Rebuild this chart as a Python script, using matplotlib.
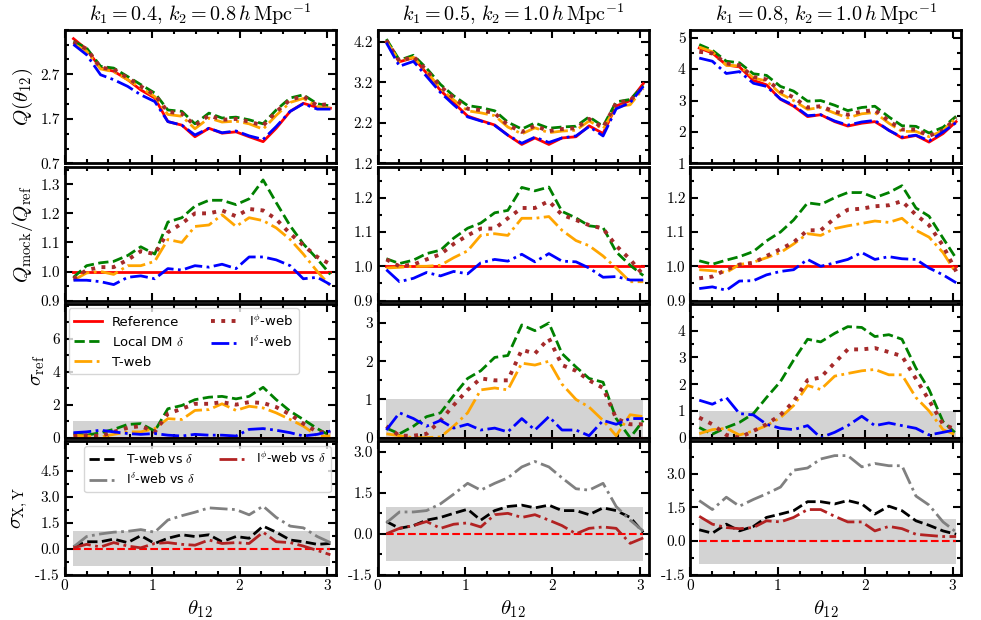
import matplotlib
matplotlib.use("Agg")
import matplotlib.pyplot as plt
from matplotlib.ticker import AutoMinorLocator, FixedLocator
import numpy as np

plt.rcParams['mathtext.fontset'] = 'cm'
plt.rcParams['font.family'] = 'serif'
plt.rcParams['font.serif'] = ['cmr10', 'DejaVu Serif']
plt.rcParams['axes.formatter.use_mathtext'] = True

theta = [0.10, 0.25, 0.41, 0.56, 0.72, 0.87, 1.03, 1.18, 1.34, 1.49,
         1.65, 1.80, 1.96, 2.11, 2.27, 2.42, 2.58, 2.73, 2.89, 3.04]

titles = [r'$k_1 = 0.4,\, k_2 = 0.8\,h\,\mathrm{Mpc}^{-1}$',
          r'$k_1 = 0.5,\, k_2 = 1.0\,h\,\mathrm{Mpc}^{-1}$',
          r'$k_1 = 0.8,\, k_2 = 1.0\,h\,\mathrm{Mpc}^{-1}$']

# Q(theta_12), one list per column
Q_ref = [
    [3.50, 3.26, 2.84, 2.77, 2.58, 2.35, 2.17, 1.64, 1.56, 1.30, 1.49, 1.38, 1.41, 1.30, 1.19, 1.49, 1.87, 2.05, 1.96, 1.94],
    [4.20, 3.71, 3.81, 3.43, 3.00, 2.70, 2.37, 2.26, 2.15, 1.90, 1.67, 1.83, 1.67, 1.83, 1.86, 2.13, 1.94, 2.62, 2.75, 3.17],
    [4.67, 4.51, 4.13, 4.07, 3.64, 3.50, 3.04, 2.82, 2.49, 2.55, 2.33, 2.19, 2.28, 2.33, 2.06, 1.81, 1.89, 1.68, 1.95, 2.33],
]
Q_dm = [
    [3.44, 3.29, 2.88, 2.84, 2.65, 2.47, 2.28, 1.90, 1.87, 1.59, 1.83, 1.72, 1.74, 1.68, 1.59, 1.90, 2.17, 2.24, 2.04, 1.99],
    [4.27, 3.75, 3.87, 3.55, 3.15, 2.87, 2.63, 2.58, 2.50, 2.22, 2.05, 2.20, 2.07, 2.10, 2.12, 2.35, 2.12, 2.72, 2.78, 3.12],
    [4.78, 4.60, 4.25, 4.20, 3.85, 3.80, 3.45, 3.30, 2.98, 3.00, 2.85, 2.68, 2.78, 2.82, 2.48, 2.20, 2.18, 1.97, 2.15, 2.50],
]
Q_tweb = [
    [3.38, 3.22, 2.82, 2.76, 2.58, 2.40, 2.20, 1.80, 1.76, 1.48, 1.72, 1.63, 1.65, 1.59, 1.47, 1.78, 2.07, 2.16, 1.98, 1.94],
    [4.22, 3.72, 3.82, 3.47, 3.05, 2.77, 2.50, 2.45, 2.38, 2.10, 1.93, 2.08, 1.96, 2.00, 2.02, 2.25, 2.05, 2.60, 2.65, 3.05],
    [4.70, 4.55, 4.12, 4.10, 3.72, 3.62, 3.22, 3.00, 2.72, 2.78, 2.60, 2.45, 2.58, 2.62, 2.28, 2.02, 2.02, 1.85, 2.05, 2.45],
]
Q_iphi = [
    [3.42, 3.27, 2.85, 2.81, 2.62, 2.43, 2.24, 1.86, 1.82, 1.55, 1.78, 1.68, 1.70, 1.64, 1.55, 1.86, 2.13, 2.21, 2.00, 2.04],
    [4.24, 3.72, 3.84, 3.50, 3.10, 2.82, 2.55, 2.52, 2.44, 2.15, 1.98, 2.13, 2.00, 2.05, 2.07, 2.30, 2.08, 2.70, 2.75, 3.10],
    [4.55, 4.50, 4.18, 4.12, 3.75, 3.67, 3.30, 3.10, 2.78, 2.82, 2.65, 2.55, 2.65, 2.70, 2.35, 2.08, 2.08, 1.88, 2.05, 2.45],
]
Q_idelta = [
    [3.37, 3.14, 2.69, 2.58, 2.43, 2.24, 2.09, 1.64, 1.56, 1.34, 1.49, 1.39, 1.43, 1.32, 1.24, 1.53, 1.87, 2.04, 1.92, 1.92],
    [4.18, 3.60, 3.72, 3.35, 2.95, 2.65, 2.35, 2.25, 2.14, 1.90, 1.70, 1.85, 1.72, 1.83, 1.88, 2.11, 1.88, 2.55, 2.70, 3.10],
    [4.35, 4.25, 3.86, 3.92, 3.55, 3.45, 3.05, 2.85, 2.52, 2.55, 2.35, 2.22, 2.32, 2.37, 2.05, 1.84, 1.90, 1.72, 2.00, 2.30],
]

# Q_mock / Q_ref
R_ref = [[1.0] * 20, [1.0] * 20, [1.0] * 20]
R_dm = [
    [0.980, 1.020, 1.030, 1.035, 1.055, 1.085, 1.060, 1.170, 1.185, 1.225, 1.245, 1.245, 1.230, 1.250, 1.315, 1.237, 1.157, 1.095, 1.043, 0.990],
    [1.022, 1.008, 1.018, 1.037, 1.047, 1.082, 1.111, 1.126, 1.156, 1.163, 1.230, 1.220, 1.231, 1.160, 1.141, 1.118, 1.113, 1.042, 1.003, 0.973],
    [1.016, 1.006, 1.018, 1.028, 1.043, 1.074, 1.100, 1.135, 1.185, 1.180, 1.200, 1.215, 1.215, 1.200, 1.215, 1.235, 1.170, 1.146, 1.082, 1.023],
]
R_tweb = [
    [0.970, 0.995, 1.000, 0.990, 1.020, 1.020, 1.035, 1.110, 1.100, 1.155, 1.160, 1.195, 1.155, 1.185, 1.175, 1.150, 1.110, 1.060, 1.000, 0.950],
    [0.995, 0.997, 1.000, 1.000, 1.003, 1.025, 1.045, 1.090, 1.095, 1.090, 1.140, 1.140, 1.145, 1.105, 1.075, 1.060, 1.030, 0.995, 0.955, 0.955],
    [0.990, 0.987, 0.982, 1.005, 1.012, 1.025, 1.040, 1.065, 1.095, 1.090, 1.110, 1.118, 1.125, 1.132, 1.128, 1.140, 1.105, 1.085, 1.040, 0.980],
]
R_iphi = [
    [0.975, 1.005, 1.015, 1.015, 1.040, 1.070, 1.060, 1.135, 1.165, 1.200, 1.200, 1.210, 1.190, 1.215, 1.210, 1.180, 1.130, 1.090, 1.050, 1.025],
    [1.020, 1.000, 1.005, 1.020, 1.035, 1.065, 1.090, 1.110, 1.110, 1.140, 1.170, 1.170, 1.190, 1.150, 1.135, 1.120, 1.110, 1.060, 1.020, 0.975],
    [0.965, 0.970, 0.990, 1.005, 1.010, 1.030, 1.050, 1.070, 1.105, 1.105, 1.140, 1.165, 1.168, 1.175, 1.178, 1.190, 1.150, 1.120, 1.060, 0.985],
]
R_idelta = [
    [0.970, 0.970, 0.965, 0.955, 0.980, 0.985, 0.975, 1.010, 1.005, 1.020, 1.015, 1.025, 1.010, 1.050, 1.050, 1.040, 1.020, 0.975, 0.980, 0.955],
    [0.990, 0.955, 0.965, 0.982, 0.972, 0.985, 0.978, 1.010, 1.020, 1.015, 1.035, 1.013, 1.037, 1.015, 1.013, 0.995, 0.968, 0.970, 0.960, 0.960],
    [0.935, 0.940, 0.930, 0.957, 0.958, 0.975, 0.985, 0.990, 1.020, 1.000, 1.010, 1.020, 1.040, 1.020, 1.028, 1.022, 1.020, 0.995, 0.975, 0.952],
]

# sigma_ref
S_ref = [[0.0] * 20, [0.0] * 20, [0.0] * 20]
S_dm = [
    [0.25, 0.15, 0.30, 0.50, 0.80, 0.85, 0.40, 1.75, 1.95, 2.30, 2.45, 2.50, 2.35, 2.50, 3.05, 2.30, 1.60, 1.10, 0.55, 0.10],
    [0.25, 0.10, 0.30, 0.55, 0.65, 1.10, 1.55, 1.75, 2.10, 2.15, 2.95, 2.80, 3.00, 2.20, 1.85, 1.55, 1.45, 0.50, 0.00, 0.45],
    [0.38, 0.13, 0.38, 0.57, 0.90, 1.50, 2.10, 2.90, 3.68, 3.58, 3.90, 4.15, 4.12, 3.78, 3.85, 3.68, 2.60, 1.80, 0.60, 0.15],
]
S_tweb = [
    [0.15, 0.10, 0.05, 0.20, 0.35, 0.35, 0.55, 1.15, 1.10, 1.65, 1.70, 2.05, 1.65, 1.90, 1.80, 1.50, 1.10, 0.70, 0.10, 0.10],
    [0.10, 0.05, 0.00, 0.00, 0.02, 0.30, 0.65, 1.25, 1.30, 1.25, 1.95, 1.90, 2.00, 1.40, 1.00, 0.80, 0.45, 0.05, 0.60, 0.55],
    [0.15, 0.30, 0.35, 0.10, 0.25, 0.45, 0.75, 1.20, 1.95, 1.80, 2.30, 2.40, 2.50, 2.55, 2.35, 2.35, 1.50, 1.00, 0.30, 0.10],
]
S_iphi = [
    [0.10, 0.15, 0.10, 0.35, 0.60, 0.70, 0.35, 1.45, 1.75, 2.05, 2.05, 2.15, 2.00, 2.15, 2.10, 1.85, 1.40, 0.85, 0.35, 0.30],
    [0.30, 0.05, 0.05, 0.10, 0.45, 0.85, 1.25, 1.55, 1.50, 1.50, 2.30, 2.20, 2.60, 1.90, 1.75, 1.50, 1.30, 0.50, 0.35, 0.35],
    [0.75, 0.50, 0.10, 0.00, 0.25, 0.50, 0.85, 1.35, 2.15, 2.25, 2.80, 3.30, 3.30, 3.35, 3.20, 3.05, 2.20, 1.40, 0.50, 0.30],
]
S_idelta = [
    [0.30, 0.35, 0.45, 0.35, 0.25, 0.20, 0.25, 0.15, 0.10, 0.20, 0.15, 0.15, 0.10, 0.50, 0.55, 0.45, 0.30, 0.10, 0.20, 0.40],
    [0.20, 0.65, 0.50, 0.30, 0.45, 0.25, 0.35, 0.20, 0.25, 0.15, 0.50, 0.20, 0.55, 0.20, 0.20, 0.05, 0.45, 0.35, 0.50, 0.50],
    [1.40, 1.25, 1.50, 0.90, 0.85, 0.50, 0.35, 0.30, 0.45, 0.00, 0.20, 0.45, 0.80, 0.45, 0.55, 0.45, 0.35, 0.10, 0.20, 0.30],
]

# sigma_X,Y
X_tweb = [
    [0.10, 0.40, 0.40, 0.55, 0.35, 0.75, 0.30, 0.60, 0.80, 0.70, 0.80, 0.40, 0.70, 0.60, 1.30, 0.95, 0.50, 0.40, 0.25, 0.30],
    [0.45, 0.20, 0.30, 0.50, 0.60, 0.75, 0.90, 0.50, 0.85, 1.00, 1.05, 0.95, 1.05, 0.85, 0.85, 0.70, 0.95, 0.85, 0.60, 0.05],
    [0.50, 0.35, 0.75, 0.45, 0.65, 1.05, 1.20, 1.35, 1.75, 1.75, 1.65, 1.80, 1.65, 1.20, 1.55, 1.35, 0.90, 0.70, 0.45, 0.30],
]
X_idelta = [
    [0.10, 0.70, 0.85, 0.95, 1.00, 1.10, 0.95, 1.65, 1.90, 2.10, 2.35, 2.30, 2.25, 1.95, 2.45, 1.80, 1.30, 1.20, 0.70, 0.35],
    [0.40, 0.80, 0.80, 0.85, 1.10, 1.45, 1.85, 1.60, 1.85, 2.05, 2.45, 2.65, 2.45, 2.05, 1.65, 1.60, 1.85, 1.00, 0.50, 0.10],
    [1.80, 1.40, 1.95, 1.55, 1.85, 2.10, 2.40, 3.15, 3.25, 3.65, 3.80, 3.80, 3.30, 3.45, 3.35, 3.35, 2.00, 1.60, 0.85, 0.40],
]
X_iphi = [
    [0.05, 0.25, 0.10, 0.35, 0.15, 0.05, 0.30, 0.35, 0.25, 0.20, 0.50, 0.30, 0.35, 0.30, 0.95, 0.40, 0.35, 0.15, -0.10, -0.35],
    [0.00, 0.20, 0.30, 0.45, 0.20, 0.35, 0.40, 0.25, 0.70, 0.75, 0.60, 0.70, 0.50, 0.30, 0.00, 0.20, 0.25, 0.20, -0.35, -0.15],
    [1.10, 0.75, 0.60, 0.55, 0.60, 0.90, 0.85, 1.05, 1.40, 1.40, 1.10, 0.85, 0.85, 0.45, 0.65, 0.55, 0.30, 0.25, 0.20, 0.20],
]

tracer_styles = [
    ('Reference', dict(color='red', ls='-', lw=2)),
    (r'Local DM $\delta$', dict(color='green', ls='--', lw=2)),
    ('T-web', dict(color='orange', ls='-.', lw=2)),
    (r'I$^{\phi}$-web', dict(color='brown', ls=':', lw=2.8)),
    (r'I$^{\delta}$-web', dict(color='blue', ls='-.', lw=2)),
]

# axis settings per row, per column
ylims = [[(0.7, 3.7), (1.2, 4.5), (1.0, 5.25)],
         [(0.9, 1.36), (0.9, 1.29), (0.9, 1.29)],
         [(0.0, 8.1), (0.0, 3.5), (0.0, 5.0)],
         [(-1.5, 6.2), (-1.5, 3.4), (-1.5, 4.45)]]
yticks = [[[0.7, 1.7, 2.7], [1.2, 2.2, 3.2, 4.2], [1, 2, 3, 4, 5]],
          [[0.9, 1.0, 1.1, 1.2, 1.3], [0.9, 1.0, 1.1, 1.2], [0.9, 1.0, 1.1, 1.2]],
          [[0, 2, 4, 6], [0, 1, 2, 3], [0, 1, 2, 3, 4]],
          [[-1.5, 0, 1.5, 3.0, 4.5], [-1.5, 0, 1.5, 3.0], [-1.5, 0, 1.5, 3.0]]]
yfmt = [['%.1f', '%.1f', '%d'], ['%.1f'] * 3, ['%d'] * 3, ['%.1f'] * 3]
ylabels = [r'$Q(\theta_{12})$', r'$Q_{\rm mock}/Q_{\rm ref}$',
           r'$\sigma_{\rm ref}$', r'$\sigma_{\rm X,Y}$']

fig, axes = plt.subplots(4, 3, figsize=(9.81, 6.2), dpi=100,
                         gridspec_kw=dict(hspace=0.025, wspace=0.155))
fig.subplots_adjust(left=0.066, right=0.98, top=0.952, bottom=0.073)

th = np.array(theta)
for c in range(3):
    rows = [
        [Q_ref[c], Q_dm[c], Q_tweb[c], Q_iphi[c], Q_idelta[c]],
        [R_ref[c], R_dm[c], R_tweb[c], R_iphi[c], R_idelta[c]],
        [S_ref[c], S_dm[c], S_tweb[c], S_iphi[c], S_idelta[c]],
    ]
    for r in range(3):
        ax = axes[r, c]
        if r == 2:
            ax.fill_between(th, -1, 1, color='lightgray', lw=0, zorder=0)
        for (lab, st), vals in zip(tracer_styles, rows[r]):
            ax.plot(th, vals, label=lab, **st)
    ax = axes[3, c]
    ax.fill_between(th, -1, 1, color='lightgray', lw=0, zorder=0)
    ax.plot(th, [0.0] * len(th), color='red', ls='--', lw=1.5)
    ax.plot(th, X_tweb[c], color='black', ls='--', lw=2, label=r'T-web vs $\delta$')
    ax.plot(th, X_idelta[c], color='gray', ls='-.', lw=2, label=r'I$^{\delta}$-web vs $\delta$')
    ax.plot(th, X_iphi[c], color='firebrick', ls='-.', lw=2, label=r'I$^{\phi}$-web vs $\delta$')
    axes[0, c].set_title(titles[c], fontsize=14.5, pad=6)
    axes[3, c].set_xlabel(r'$\theta_{12}$', fontsize=15)

for r in range(4):
    for c in range(3):
        ax = axes[r, c]
        ax.set_xlim(0, 3.1)
        ax.set_ylim(*ylims[r][c])
        ax.xaxis.set_major_locator(FixedLocator([0, 1, 2, 3]))
        ax.xaxis.set_minor_locator(AutoMinorLocator(4))
        ax.yaxis.set_major_locator(FixedLocator(yticks[r][c]))
        nmin = 3 if (r == 0 and c < 2) else 2
        ax.yaxis.set_minor_locator(AutoMinorLocator(nmin))
        ax.set_yticklabels([yfmt[r][c] % v for v in yticks[r][c]])
        ax.tick_params(which='both', direction='in', top=True, right=True,
                       labelsize=11, width=1.5)
        ax.tick_params(which='major', length=6)
        ax.tick_params(which='minor', length=3)
        for s in ax.spines.values():
            s.set_linewidth(2)
        if r < 3:
            ax.set_xticklabels([])
        else:
            ax.set_xticklabels(['0', '1', '2', '3'])
    axes[r, 0].set_ylabel(ylabels[r], fontsize=15)

axes[2, 0].legend(ncol=2, loc='upper left',
                  prop=dict(family='DejaVu Sans', size=9.5),
                  handlelength=2.1, columnspacing=2.0, borderaxespad=0.3)
axes[3, 0].legend(ncol=2, loc='upper right',
                  prop=dict(family='DejaVu Sans', size=9),
                  handlelength=2.1, columnspacing=2.0, borderaxespad=0.4)

fig.savefig('out.png', dpi=100)
